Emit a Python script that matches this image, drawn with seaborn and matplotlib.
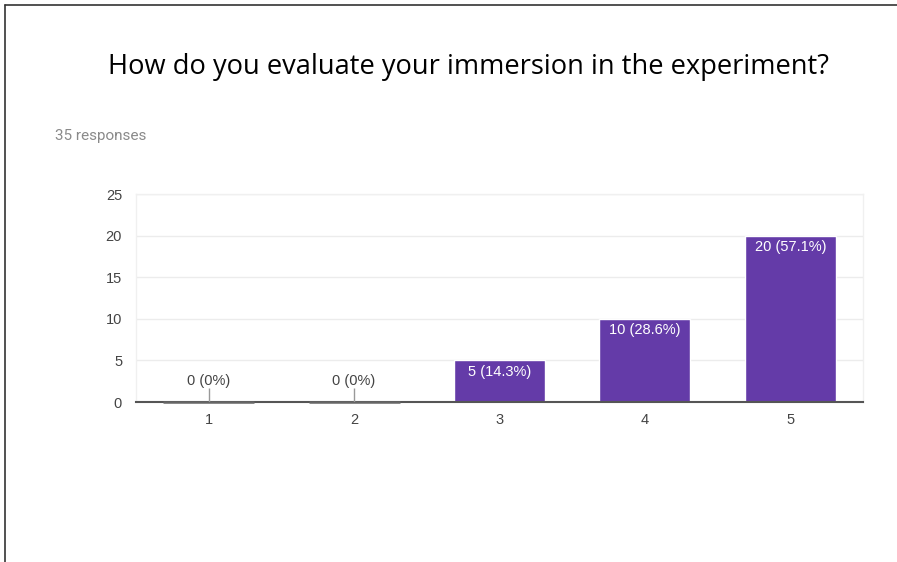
import matplotlib
matplotlib.use("Agg")
import matplotlib.pyplot as plt
import seaborn as sns
import pandas as pd
from matplotlib.lines import Line2D

categories = ["1", "2", "3", "4", "5"]
counts = [0, 0, 5, 10, 20]
labels = ["0 (0%)", "0 (0%)", "5 (14.3%)", "10 (28.6%)", "20 (57.1%)"]
yticks = [0, 5, 10, 15, 20, 25]
title = "How do you evaluate your immersion in the experiment?"
subtitle = "35 responses"

sns.set_theme(style="white")
plt.rcParams['font.family'] = ['Liberation Sans', 'DejaVu Sans']

df = pd.DataFrame({"cat": categories, "count": counts})

fig = plt.figure(figsize=(8.97, 5.62), dpi=100)
ax = fig.add_axes([136/897, 1-402/562, (863-136)/897, (402-194)/562])

sns.barplot(data=df, x="cat", y="count", color="#643BA8", saturation=1,
            width=0.625, ax=ax)

ax.set_xlim(-0.5, 4.5)
ax.set_ylim(0, 25)
ax.set_yticks(yticks)
ax.set_xlabel("")
ax.set_ylabel("")
ax.grid(axis="y", color="#ececec", linewidth=1)
ax.set_axisbelow(True)
for side in ["left", "right", "top"]:
    ax.spines[side].set_color("#f0f0f0")
    ax.spines[side].set_linewidth(1)
ax.spines["bottom"].set_color("#555555")
ax.spines["bottom"].set_linewidth(1.5)
ax.tick_params(axis="both", length=0, labelsize=10.5, labelcolor="#444444")
ax.tick_params(axis="y", pad=10)
ax.tick_params(axis="x", pad=8)

for patch, val, lab in zip(ax.patches, counts, labels):
    cx = patch.get_x() + patch.get_width() / 2
    if val == 0:
        ax.hlines(0, patch.get_x(), patch.get_x() + patch.get_width(),
                  color="#666666", linewidth=1.8, zorder=4, clip_on=False)
        ax.vlines(cx, 0, 1.7, color="#999999", linewidth=1, zorder=4)
        ax.text(cx, 2.5, lab, ha="center", va="center", fontsize=10.5,
                color="#444444")
    else:
        ax.text(cx, val - 0.55, lab, ha="center", va="top", fontsize=10.5,
                color="white")

fig.text(468/897, 1-67/562, title, ha="center", va="center", fontsize=19.6,
         family=["Open Sans", "DejaVu Sans"], color="black")
fig.text(55/897, 1-136/562, subtitle, ha="left", va="center", fontsize=11,
         color="#8a8a8a", family=["Roboto", "DejaVu Sans"])

# page border lines (top and left)
fig.add_artist(Line2D([5/897, 1], [1-5/562, 1-5/562], transform=fig.transFigure,
                      color="#333333", linewidth=1.2))
fig.add_artist(Line2D([5/897, 5/897], [0, 1-5/562], transform=fig.transFigure,
                      color="#333333", linewidth=1.2))

fig.savefig("out.png", dpi=100)
